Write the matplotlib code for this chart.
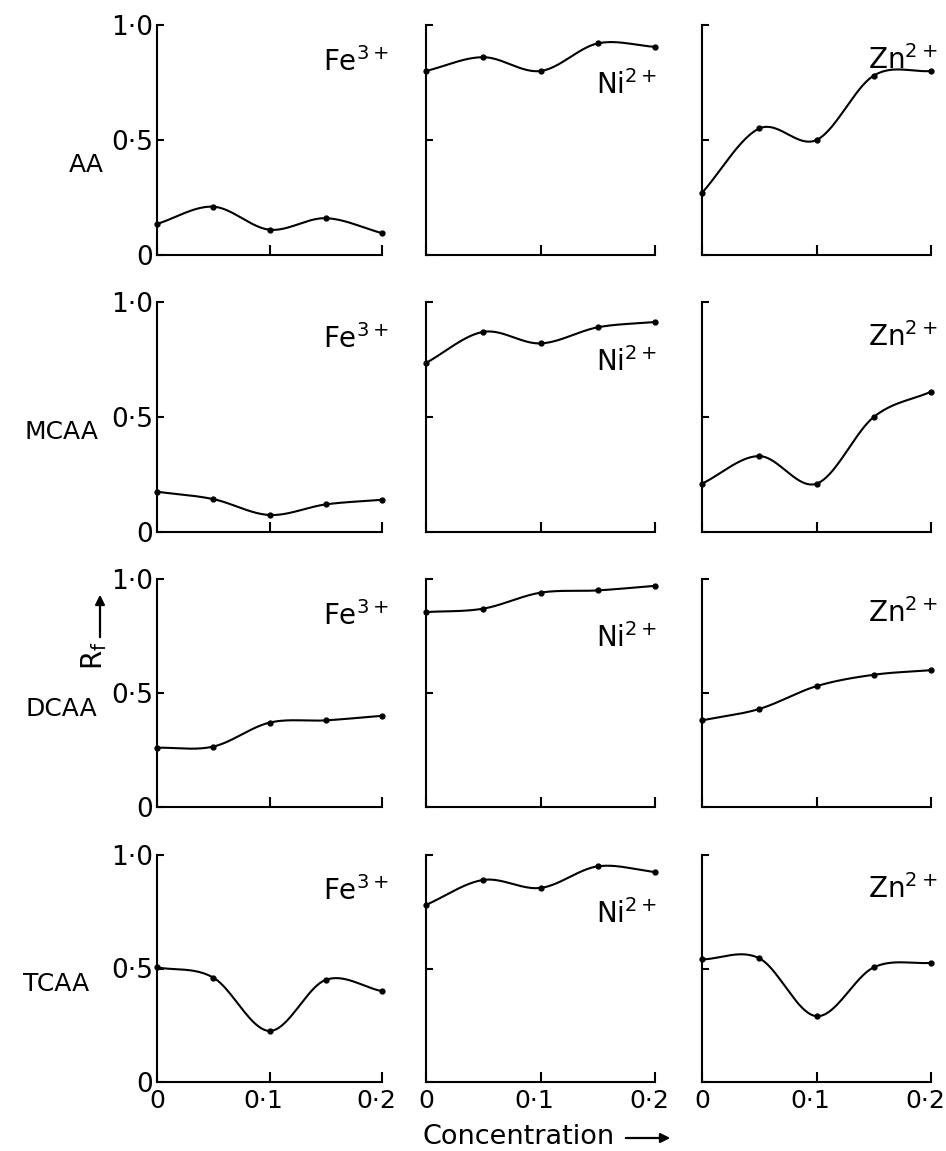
import numpy as np
import matplotlib
matplotlib.use("Agg")
import matplotlib.pyplot as plt
from matplotlib.patches import FancyArrowPatch
from matplotlib.transforms import ScaledTranslation

# Rf values, rows = AA, MCAA, DCAA, TCAA
conc = [0.0, 0.05, 0.1, 0.15, 0.2]
acids = ["AA", "MCAA", "DCAA", "TCAA"]
ions = ["Fe$^{3+}$", "Ni$^{2+}$", "Zn$^{2+}$"]

rf_fe = [
    [0.135, 0.21, 0.11, 0.16, 0.095],
    [0.175, 0.143, 0.074, 0.12, 0.14],
    [0.26, 0.265, 0.37, 0.38, 0.40],
    [0.505, 0.46, 0.225, 0.45, 0.40],
]
rf_ni = [
    [0.80, 0.86, 0.80, 0.92, 0.905],
    [0.735, 0.87, 0.82, 0.89, 0.913],
    [0.855, 0.87, 0.94, 0.95, 0.97],
    [0.78, 0.89, 0.855, 0.95, 0.925],
]
rf_zn = [
    [0.27, 0.55, 0.50, 0.78, 0.80],
    [0.21, 0.33, 0.21, 0.50, 0.61],
    [0.38, 0.43, 0.53, 0.58, 0.60],
    [0.54, 0.545, 0.29, 0.505, 0.525],
]

xticklabels = ["0", "0·1", "0·2"]
yticklabels = ["0", "0·5", "1·0"]

plt.rcParams["font.family"] = "DejaVu Sans"
plt.rcParams["mathtext.default"] = "regular"


def smooth(x, y, n=40):
    # Catmull-Rom style curve through the points (drawing only)
    x = np.asarray(x, float)
    y = np.asarray(y, float)
    m = np.gradient(y, x, edge_order=1)
    m[1:-1] = (y[2:] - y[:-2]) / (x[2:] - x[:-2])
    xs_all, ys_all = [], []
    for i in range(len(x) - 1):
        h = x[i + 1] - x[i]
        t = np.linspace(0, 1, n)
        h00 = 2 * t**3 - 3 * t**2 + 1
        h10 = t**3 - 2 * t**2 + t
        h01 = -2 * t**3 + 3 * t**2
        h11 = t**3 - t**2
        xs_all.append(x[i] + t * h)
        ys_all.append(h00 * y[i] + h10 * h * m[i] + h01 * y[i + 1] + h11 * h * m[i + 1])
    return np.concatenate(xs_all), np.concatenate(ys_all)


W, H = 946, 1151
fig = plt.figure(figsize=(W / 100, H / 100), dpi=100)

rows_px = [(25, 255), (302, 532), (579, 807), (855, 1082)]
cols_px = [(157, 382), (426, 655), (702, 931)]
label_pos = [(1.03, 0.80), (1.01, 0.70), (1.03, 0.81)]
acid_pos = [(-0.235, 0.39), (-0.258, 0.435), (-0.266, 0.43), (-0.30, 0.43)]

series = [rf_fe, rf_ni, rf_zn]
shift_left = ScaledTranslation(-6 / 100, 0, fig.dpi_scale_trans)

for r, (top, bot) in enumerate(rows_px):
    for c, (left, right) in enumerate(cols_px):
        ax = fig.add_axes([left / W, 1 - bot / H, (right - left) / W, (bot - top) / H])
        vals = series[c][r]
        xs, ys = smooth(conc, vals)
        ax.plot(xs, ys, color="black", lw=1.5, clip_on=False)
        ax.plot(conc, vals, "o", color="black", ms=3.5, clip_on=False)
        ax.set_xlim(0, 0.2)
        ax.set_ylim(0, 1.0)
        for s in ["top", "right"]:
            ax.spines[s].set_visible(False)
        for s in ["left", "bottom"]:
            ax.spines[s].set_linewidth(1.5)
        ax.set_xticks([0, 0.1, 0.2])
        ax.set_yticks([0, 0.5, 1.0])
        ax.tick_params(axis="x", direction="in", length=7, width=1.5, pad=5)
        ax.tick_params(axis="y", direction="in", length=5, width=1.5, pad=3)
        if r == len(rows_px) - 1:
            ax.set_xticklabels(xticklabels, fontsize=18)
            for lab in ax.get_xticklabels()[1:]:
                lab.set_transform(lab.get_transform() + shift_left)
        else:
            ax.set_xticklabels([])
        if c == 0:
            ax.set_yticklabels(yticklabels, fontsize=19)
            px, py = acid_pos[r]
            ax.text(px, py, acids[r], transform=ax.transAxes, ha="right",
                    va="center", fontsize=18)
        else:
            ax.set_yticklabels([])
        lx, ly = label_pos[c]
        ax.text(lx, ly, ions[c], transform=ax.transAxes, ha="right",
                va="baseline", fontsize=20)

# y axis title with arrow
fig.text(94 / W, 1 - 656 / H, "R$_f$", rotation=90, ha="center", va="center", fontsize=20)
fig.add_artist(FancyArrowPatch((100 / W, 1 - 640 / H), (100 / W, 1 - 592 / H),
                               transform=fig.transFigure, arrowstyle="-|>",
                               color="black", lw=1.6, mutation_scale=14))

# x axis title with arrow
fig.text(519 / W, 1 - 1137 / H, "Concentration", ha="center", va="center", fontsize=19.5)
fig.add_artist(FancyArrowPatch((623 / W, 1 - 1138 / H), (673 / W, 1 - 1138 / H),
                               transform=fig.transFigure, arrowstyle="-|>",
                               color="black", lw=1.6, mutation_scale=14))

fig.savefig("out.png", dpi=100, facecolor="white")
